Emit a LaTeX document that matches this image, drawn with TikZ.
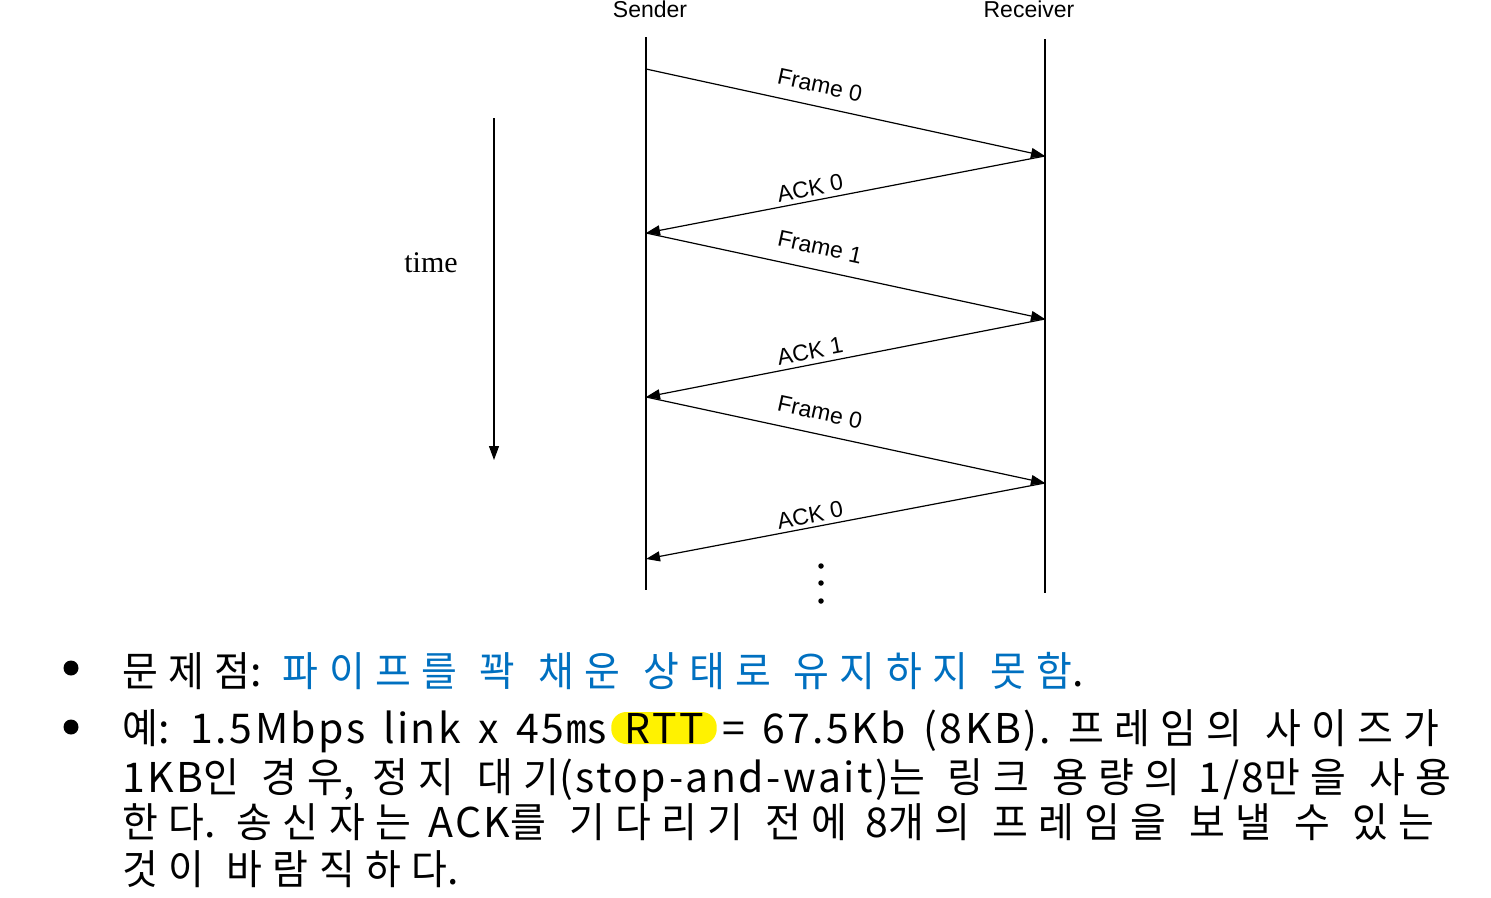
\documentclass[tikz,border=0pt]{standalone}
\usepackage{fontspec}
\setmainfont{Liberation Sans}
\newfontfamily\timesf{Liberation Serif}
\newfontfamily\hf[FakeStretch=0.95,LetterSpace=25,WordSpace=1.2]{Noto Sans CJK KR}
\newfontfamily\lf[LetterSpace=6,WordSpace=1.5]{Noto Sans CJK KR}
\newcommand{\h}[1]{{\hf #1}}
\usetikzlibrary{arrows.meta}
\definecolor{kblue}{RGB}{0,112,192}
\definecolor{hl}{RGB}{255,242,0}
\begin{document}
\begin{tikzpicture}[x=1pt,y=-1pt,
  lifeline/.style={line width=1.2pt},
  msg/.style={line width=1.2pt,-{Triangle[length=14pt,width=10pt]}},
  lbl/.style={font=\fontsize{23}{26}\selectfont, inner sep=0pt},
  body/.style={font=\lf\fontsize{41}{47}\selectfont, inner sep=0pt, anchor=base west},
  dotn/.style={circle,fill,inner sep=0pt,minimum size=5.5pt},
  bulletn/.style={circle,fill,inner sep=0pt,minimum size=15pt}]
\useasboundingbox (0,0) rectangle (1491,897);
% headers
\node[lbl] (snd) at (650,9) {Sender};
\node[lbl] (rcv) at (1029,9) {Receiver};
% lifelines
\coordinate (stop) at (646,37);
\coordinate (sbot) at (646,590);
\coordinate (rtop) at (1045,39);
\coordinate (rbot) at (1045,593);
\draw[lifeline] (stop) -- (sbot);
\draw[lifeline] (rtop) -- (rbot);
% message points
\coordinate (s0) at (646,69);
\coordinate (r0) at (1045,156);
\coordinate (s1) at (646,233);
\coordinate (r1) at (1045,319);
\coordinate (s2) at (646,397);
\coordinate (r2) at (1045,483);
\coordinate (s3) at (646,559);
\draw[msg] (s0) -- (r0);
\draw[msg] (r0) -- (s1);
\draw[msg] (s1) -- (r1);
\draw[msg] (r1) -- (s2);
\draw[msg] (s2) -- (r2);
\draw[msg] (r2) -- (s3);
% labels
\node[lbl, rotate=-12.3] (f0a) at (820,85) {Frame 0};
\node[lbl, rotate=10.9] (a0a) at (810,188) {ACK 0};
\node[lbl, rotate=-12.3] (f1) at (820,247) {Frame 1};
\node[lbl, rotate=10.9] (a1) at (810,351) {ACK 1};
\node[lbl, rotate=-12.3] (f0b) at (820,412) {Frame 0};
\node[lbl, rotate=10.9] (a0b) at (810,515) {ACK 0};
% dots
\node[dotn] (d1) at (821,566) {};
\node[dotn] (d2) at (821,583) {};
\node[dotn] (d3) at (821,601) {};
% time
\node[font=\timesf\fontsize{30}{34}\selectfont, inner sep=0pt] (time) at (431,263) {time};
\coordinate (ttop) at (494,118);
\coordinate (tbot) at (494,460);
\draw[msg] (ttop) -- (tbot);
% bullets
\node[bulletn] (b1) at (71,668) {};
\node[bulletn] (b2) at (71,727) {};
% text
\node[body] (l1) at (122,686) {\h{문제점}: \h{\color{kblue}파이프를 꽉 채운 상태로 유지하지 못함}.};
\node[body] (l2a) at (122,743) {\h{예}: 1.5Mbps link x 45㎳};
\node[body, inner xsep=13pt, text height=31pt, text depth=1pt, fill=hl, rounded corners=15pt] (rtt) at ([xshift=3pt]l2a.base east) {RTT};
\node[body] (l2b) at ([xshift=5pt]rtt.base east) {= 67.5Kb (8KB). \h{프레임의 사이즈가}};
\node[body] (l3) at (122,792) {1KB\h{인 경우}, \h{정지 대기}(stop-and-wait)\h{는 링크 용량의} 1/8\h{만을 사용}};
\node[body] (l4) at (122,837) {\h{한다}. \h{송신자는} ACK\h{를 기다리기 전에} 8\h{개의 프레임을 보낼 수 있는}};
\node[body] (l5) at (122,884) {\h{것이 바람직하다}.};
\end{tikzpicture}
\end{document}
